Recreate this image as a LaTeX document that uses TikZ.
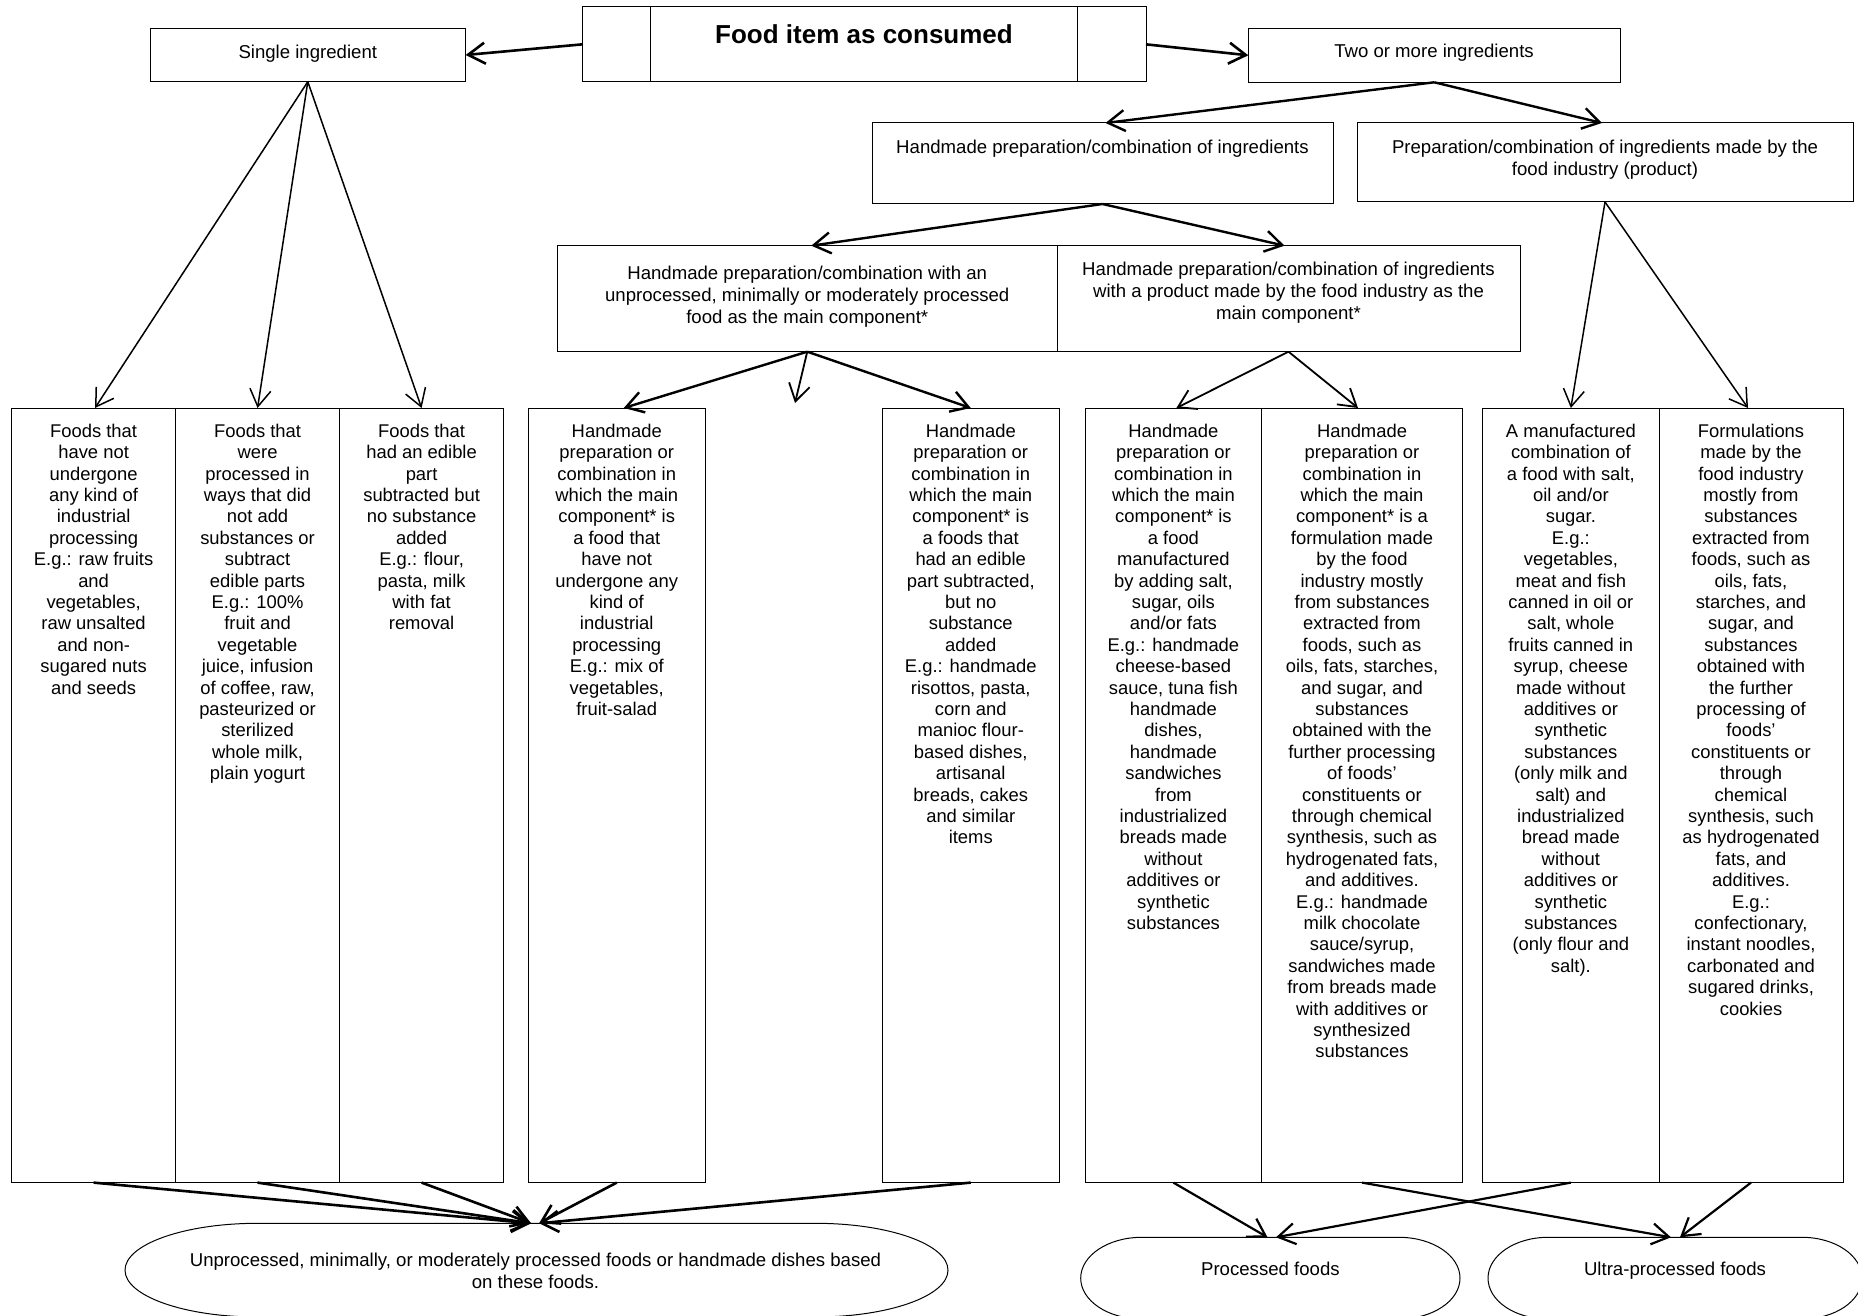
\documentclass[tikz,border=0pt]{standalone}
\usepackage{fontspec}
\setmainfont{Liberation Sans}
\usetikzlibrary{arrows.meta}
\newcommand\mkbox[5]{\node[cell, minimum width={(#4-#2)*0.5pt}, minimum height={(#5-#3)*0.5pt}] (#1) at (#2,#3) {};}
\tikzset{
  cell/.style={draw=black, line width=0.5pt, inner sep=0pt, outer sep=0pt, anchor=north west, rectangle},
  arr/.style={-{Straight Barb[length=8.5pt,width=10.5pt]}, line width=1.1pt},
  arrthin/.style={arr, line width=0.75pt},
  utxt/.style={align=center, inner sep=0pt, anchor=north, font=\fontsize{9.3}{10.85}\selectfont, execute at begin node=\rule{0pt}{7pt}},
  btxt/.style={align=center, inner sep=0pt, anchor=north, font=\fontsize{9.2}{10.7}\selectfont, execute at begin node=\rule{0pt}{7pt}},
  stxt/.style={inner sep=0pt, anchor=base, font=\fontsize{9.3}{10.85}\selectfont},
  shp/.style={draw=black, line width=0.5pt},
  term/.style={inner sep=0pt, outer sep=0pt, anchor=north west}
}
\begin{document}
\begin{tikzpicture}[x=0.5pt,y=-0.5pt]
\useasboundingbox (0,0) rectangle (1858,1316);
\clip (0,0) rectangle (1858,1316);
% top
\mkbox{top1}{582.3}{6.7}{650.7}{82}
\mkbox{top}{650.7}{6.7}{1077.3}{82}
\mkbox{top3}{1077.3}{6.7}{1146}{82}
\node[inner sep=0pt, anchor=base, font=\fontsize{13}{15}\selectfont\bfseries] (title) at (864,44) {Food item as consumed};
\mkbox{single}{150}{28.3}{465.6}{81.7}
\node[stxt] (singlet) at (307.8,58.2) {Single ingredient};
\mkbox{two}{1248.3}{28.3}{1620.2}{82.3}
\node[stxt] (twot) at (1434,57.2) {Two or more ingredients};
% second row
\mkbox{hp}{872}{123}{1333}{204}
\node[utxt] (hpt) at (1102.5,139.2) {Handmade preparation/combination of ingredients};
\mkbox{prod}{1357}{123}{1853}{202}
\node[utxt] (prodt) at (1605,139.5) {Preparation/combination of ingredients made by the\\food industry (product)};
% third row
\mkbox{r3L}{557.5}{245.7}{1057}{351.7}
\node[utxt] (r3Lt) at (807.25,266) {Handmade preparation/combination with an\\unprocessed, minimally or moderately processed\\food as the main component*};
\mkbox{r3R}{1057}{245.7}{1520}{351.7}
\node[utxt] (r3Rt) at (1288.5,262) {Handmade preparation/combination of ingredients\\with a product made by the food industry as the\\main component*};
% bottom boxes
\mkbox{G1a}{11.6}{408}{175.6}{1182.6}
\mkbox{G1b}{175.6}{408}{339.5}{1182.6}
\mkbox{G1c}{339.5}{408}{503.7}{1182.6}
\mkbox{B4}{528.5}{408}{705}{1182.6}
\mkbox{B5}{882.5}{408}{1059}{1182.6}
\mkbox{G3a}{1085.5}{408}{1261.3}{1182.6}
\mkbox{G3b}{1261.3}{408}{1462.7}{1182.6}
\mkbox{G4a}{1482.7}{408}{1659}{1182.6}
\mkbox{G4b}{1659}{408}{1843}{1182.6}
\node[btxt] (G1at) at (93.6,423.5) {Foods that\\have not\\undergone\\any kind of\\industrial\\processing\\E.g.: raw fruits\\and\\vegetables,\\raw unsalted\\and non-\\sugared nuts\\and seeds};
\node[btxt] (G1bt) at (257.55,423.5) {Foods that\\were\\processed in\\ways that did\\not add\\substances or\\subtract\\edible parts\\E.g.: 100\%\\fruit and\\vegetable\\juice, infusion\\of coffee, raw,\\pasteurized or\\sterilized\\whole milk,\\plain yogurt};
\node[btxt] (G1ct) at (421.6,423.5) {Foods that\\had an edible\\part\\subtracted but\\no substance\\added\\E.g.: flour,\\pasta, milk\\with fat\\removal};
\node[btxt] (B4t) at (616.75,423.5) {Handmade\\preparation or\\combination in\\which the main\\component* is\\a food that\\have not\\undergone any\\kind of\\industrial\\processing\\E.g.: mix of\\vegetables,\\fruit-salad};
\node[btxt] (B5t) at (970.75,423.5) {Handmade\\preparation or\\combination in\\which the main\\component* is\\a foods that\\had an edible\\part subtracted,\\but no\\substance\\added\\E.g.: handmade\\risottos, pasta,\\corn and\\manioc flour-\\based dishes,\\artisanal\\breads, cakes\\and similar\\items};
\node[btxt] (G3at) at (1173.4,423.5) {Handmade\\preparation or\\combination in\\which the main\\component* is\\a food\\manufactured\\by adding salt,\\sugar, oils\\and/or fats\\E.g.: handmade\\cheese-based\\sauce, tuna fish\\handmade\\dishes,\\handmade\\sandwiches\\from\\industrialized\\breads made\\without\\additives or\\synthetic\\substances};
\node[btxt] (G3bt) at (1362,423.5) {Handmade\\preparation or\\combination in\\which the main\\component* is a\\formulation made\\by the food\\industry mostly\\from substances\\extracted from\\foods, such as\\oils, fats, starches,\\and sugar, and\\substances\\obtained with the\\further processing\\of foods’\\constituents or\\through chemical\\synthesis, such as\\hydrogenated fats,\\and additives.\\E.g.: handmade\\milk chocolate\\sauce/syrup,\\sandwiches made\\from breads made\\with additives or\\synthesized\\substances};
\node[btxt] (G4at) at (1570.85,423.5) {A manufactured\\combination of\\a food with salt,\\oil and/or\\sugar.\\E.g.:\\vegetables,\\meat and fish\\canned in oil or\\salt, whole\\fruits canned in\\syrup, cheese\\made without\\additives or\\synthetic\\substances\\(only milk and\\salt) and\\industrialized\\bread made\\without\\additives or\\synthetic\\substances\\(only flour and\\salt).};
\node[btxt] (G4bt) at (1751,423.5) {Formulations\\made by the\\food industry\\mostly from\\substances\\extracted from\\foods, such as\\oils, fats,\\starches, and\\sugar, and\\substances\\obtained with\\the further\\processing of\\foods’\\constituents or\\through\\chemical\\synthesis, such\\as hydrogenated\\fats, and\\additives.\\E.g.:\\confectionary,\\instant noodles,\\carbonated and\\sugared drinks,\\cookies};
% terminal shapes
\node[term, minimum width=411.5pt, minimum height=46.85pt] (pu) at (125,1223.3) {};
\draw[shp] ([xshift=66.25pt]pu.north west) -- ([xshift=-66.25pt]pu.north east)
  arc[start angle=90, end angle=-90, x radius=66.25pt, y radius=23.425pt]
  -- ([xshift=66.25pt]pu.south west)
  arc[start angle=270, end angle=90, x radius=66.25pt, y radius=23.425pt] -- cycle;
\node[utxt] (put) at (535.5,1252.5) {Unprocessed, minimally, or moderately processed foods or handmade dishes based\\on these foods.};
\node[term, minimum width=189.65pt, minimum height=40.85pt] (proc) at (1080.7,1237.3) {};
\draw[shp] ([xshift=30.5pt]proc.north west) -- ([xshift=-30.5pt]proc.north east)
  arc[start angle=90, end angle=-90, x radius=30.5pt, y radius=20.425pt]
  -- ([xshift=30.5pt]proc.south west)
  arc[start angle=270, end angle=90, x radius=30.5pt, y radius=20.425pt] -- cycle;
\node[stxt] (proct) at (1270.4,1275.5) {Processed foods};
\node[term, minimum width=187pt, minimum height=40.85pt] (ultra) at (1488,1237.3) {};
\draw[shp] ([xshift=30pt]ultra.north west) -- ([xshift=-30pt]ultra.north east)
  arc[start angle=90, end angle=-90, x radius=30pt, y radius=20.425pt]
  -- ([xshift=30pt]ultra.south west)
  arc[start angle=270, end angle=90, x radius=30pt, y radius=20.425pt] -- cycle;
\node[stxt] (ultrat) at (1675,1275.5) {Ultra-processed foods};
% connectors
\draw[arr, line width=1.3pt] (top1.west) -- (single.east);
\draw[arr, line width=1.3pt] (top3.east) -- (two.west);
\draw[arr, line width=1.2pt] (two.south) -- ([xshift=1.5pt]hp.north);
\draw[arr, line width=1.2pt] (two.south) -- ([xshift=-1.5pt]prod.north);
\draw[arr, line width=1.2pt] (hp.south) -- ([xshift=2pt]r3L.north);
\draw[arr, line width=1.2pt] (hp.south) -- ([xshift=-2pt]r3R.north);
\coordinate (midtip) at (795,403);
\draw[arr, line width=1.2pt] (r3L.south) -- ([xshift=3.5pt]B4.north);
\draw[arrthin, line width=0.9pt] (r3L.south) -- (midtip);
\draw[arr, line width=1.2pt] (r3L.south) -- (B5.north);
\draw[arrthin, line width=0.9pt] (r3R.south) -- ([xshift=1.5pt]G3a.north);
\draw[arrthin, line width=0.9pt] (r3R.south) -- ([xshift=-2pt]G3b.north);
\draw[arrthin] (prod.south) -- (G4a.north);
\draw[arrthin] (prod.south) -- ([xshift=-1.5pt]G4b.north);
\draw[arrthin] (single.south) -- ([xshift=0.7pt]G1a.north);
\draw[arrthin] (single.south) -- (G1b.north);
\draw[arrthin] (single.south) -- (G1c.north);
\draw[arr, line width=1.3pt] (G1a.south) -- ([xshift=-2.7pt]pu.north);
\draw[arr, line width=1.3pt] (G1b.south) -- ([xshift=-2.7pt]pu.north);
\draw[arr, line width=1.3pt] (G1c.south) -- ([xshift=-2.7pt]pu.north);
\draw[arr, line width=1.3pt] (B4.south) -- ([xshift=1.3pt]pu.north);
\draw[arr, line width=1.3pt] (B5.south) -- ([xshift=1.3pt]pu.north);
\draw[arr, line width=1.1pt] (G3a.south) -- ([xshift=-1.4pt]proc.north);
\draw[arr, line width=1.1pt] (G4a.south) -- ([xshift=2.8pt]proc.north);
\draw[arr, line width=1.1pt] (G3b.south) -- ([xshift=-2pt]ultra.north);
\draw[arr, line width=1.1pt] (G4b.south) -- ([xshift=2.5pt]ultra.north);
\end{tikzpicture}
\end{document}
